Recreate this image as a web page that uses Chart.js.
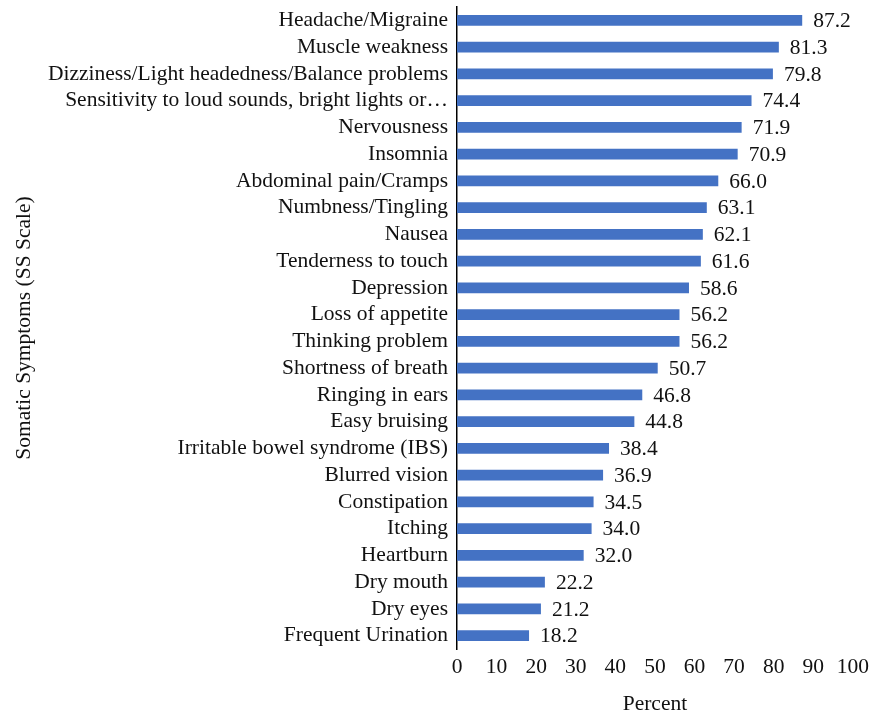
<!DOCTYPE html>
<html>
<head>
<meta charset="utf-8">
<script src="https://cdn.jsdelivr.net/npm/chart.js@4"></script>
<style>
  html, body { margin: 0; padding: 0; background: #fff; }
  #wrap { width: 874px; height: 717px; }
</style>
</head>
<body>
<div id="wrap"><canvas id="chart" width="874" height="717"></canvas></div>
<script>
const symptoms = [
    "Headache/Migraine",
    "Muscle weakness",
    "Dizziness/Light headedness/Balance problems",
    "Sensitivity to loud sounds, bright lights or\u2026",
    "Nervousness",
    "Insomnia",
    "Abdominal pain/Cramps",
    "Numbness/Tingling",
    "Nausea",
    "Tenderness to touch",
    "Depression",
    "Loss of appetite",
    "Thinking problem",
    "Shortness of breath",
    "Ringing in ears",
    "Easy bruising",
    "Irritable bowel syndrome (IBS)",
    "Blurred vision",
    "Constipation",
    "Itching",
    "Heartburn",
    "Dry mouth",
    "Dry eyes",
    "Frequent Urination"
]
const percents = [87.2, 81.3, 79.8, 74.4, 71.9, 70.9, 66.0, 63.1, 62.1, 61.6, 58.6, 56.2,
    56.2, 50.7, 46.8, 44.8, 38.4, 36.9, 34.5, 34.0, 32.0, 22.2, 21.2, 18.2]
const xTicks = [0, 10, 20, 30, 40, 50, 60, 70, 80, 90, 100]

const fontFamily = "'Liberation Serif', 'Times New Roman', serif"
const fontSize = 21.5
const barColor = "#4472C4"

// draws the value next to the end of each bar
const valueLabels = {
    id: "valueLabels",
    afterDatasetsDraw(chart) {
        const ctx = chart.ctx
        const meta = chart.getDatasetMeta(0)
        ctx.save()
        ctx.font = fontSize + "px " + fontFamily
        ctx.fillStyle = "#111"
        ctx.textBaseline = "middle"
        ctx.textAlign = "left"
        meta.data.forEach((bar, i) => {
            ctx.fillText(percents[i].toFixed(1), bar.x + 11, bar.y + 1)
        })
        ctx.restore()
    }
}

const chartCtx = document.getElementById("chart").getContext("2d")

new Chart(chartCtx, {
    type: "bar",
    data: {
        labels: symptoms,
        datasets: [
            {
                label: "Percent",
                data: percents,
                backgroundColor: barColor,
                barPercentage: 0.41,
                categoryPercentage: 1
            }
        ]
    },
    options: {
        indexAxis: "y",
        responsive: false,
        animation: false,
        layout: { padding: { top: 7, right: 20, left: 0, bottom: 0 } },
        plugins: {
            legend: { display: false },
            tooltip: { enabled: false }
        },
        scales: {
            x: {
                min: 0,
                max: 100,
                afterBuildTicks: scale => { scale.ticks = xTicks.map(v => ({ value: v })) },
                afterFit: scale => { scale.height = 68 },
                grid: { display: false, drawTicks: false },
                border: { display: false },
                ticks: {
                    color: "#111",
                    padding: 5,
                    font: { family: fontFamily, size: fontSize }
                },
                title: {
                    display: true,
                    text: "Percent",
                    color: "#111",
                    padding: { top: 0, bottom: 0 },
                    font: { family: fontFamily, size: fontSize }
                }
            },
            y: {
                afterFit: scale => {
                    scale.width = 457
                    scale.paddingTop = 0
                    scale.paddingBottom = 0
                },
                grid: { display: false, drawTicks: false },
                border: { display: true, color: "#000", width: 1.5 },
                ticks: {
                    color: "#111",
                    padding: 9,
                    autoSkip: false,
                    font: { family: fontFamily, size: fontSize }
                },
                title: {
                    display: true,
                    text: "Somatic Symptoms (SS Scale)",
                    color: "#111",
                    padding: { top: 11, bottom: 0 },
                    font: { family: fontFamily, size: fontSize }
                }
            }
        }
    },
    plugins: [valueLabels]
})
</script>
</body>
</html>
